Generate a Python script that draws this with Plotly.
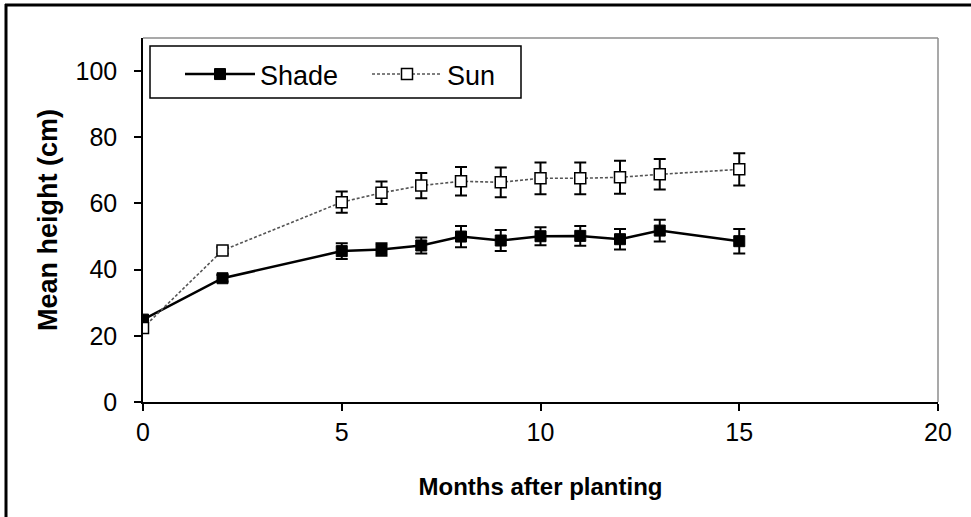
import plotly.graph_objects as go

months = [0, 2, 5, 6, 7, 8, 9, 10, 11, 12, 13, 15]
shade_mean = [24.9, 37.4, 45.6, 46.1, 47.3, 50.0, 48.8, 50.1, 50.2, 49.2, 51.8, 48.6]
shade_err = [0.5, 1.0, 2.4, 1.9, 2.4, 3.2, 3.2, 2.7, 3.0, 3.1, 3.3, 3.7]
sun_mean = [22.4, 45.8, 60.4, 63.2, 65.4, 66.7, 66.4, 67.6, 67.6, 67.9, 68.8, 70.3]
sun_err = [0.5, 1.0, 3.2, 3.4, 3.8, 4.3, 4.5, 4.8, 4.8, 5.0, 4.6, 4.9]

x_ticks = [0, 5, 10, 15, 20]
y_ticks = [0, 20, 40, 60, 80, 100]

FONT = "Arial, Liberation Sans, sans-serif"

fig = go.Figure()
fig.add_trace(go.Scatter(
    x=months, y=shade_mean, name="Shade", mode="lines+markers",
    line=dict(color="black", width=2.5),
    marker=dict(symbol="square", size=11, color="black", line=dict(color="black", width=1)),
    error_y=dict(type="data", array=shade_err, visible=True, color="black", thickness=2, width=6),
))
fig.add_trace(go.Scatter(
    x=months, y=sun_mean, name="Sun", mode="lines+markers",
    line=dict(color="#555555", width=1.6, dash="3px,2px"),
    marker=dict(symbol="square", size=11, color="white", line=dict(color="black", width=1.5)),
    error_y=dict(type="data", array=sun_err, visible=True, color="black", thickness=2, width=6),
))

L, R, T, B = 143, 33, 38, 115
W, H = 971, 517
pw, ph = W - L - R, H - T - B

def px2x(px):
    return (px - L) / pw

def py2y(py):
    return (H - B - py) / ph

fig.update_layout(
    width=W, height=H,
    margin=dict(l=L, r=R, t=T, b=B),
    paper_bgcolor="white", plot_bgcolor="white",
    font=dict(family=FONT, color="black", size=25),
    showlegend=True,
    legend=dict(
        orientation="h",
        x=px2x(180), y=py2y(50), xanchor="left", yanchor="top",
        borderwidth=0, bgcolor="rgba(0,0,0,0)",
        font=dict(size=27, family=FONT),
        entrywidth=102, entrywidthmode="pixels",
        itemwidth=70,
    ),
    xaxis=dict(
        range=[0, 20], tickvals=x_ticks, showgrid=False, zeroline=False,
        showline=True, linecolor="black", linewidth=1.5,
        ticks="outside", ticklen=7, tickwidth=1.5, tickcolor="black",
        tickfont=dict(size=25), ticklabelstandoff=0,
        title=dict(text="<b>Months after planting</b>", font=dict(size=24), standoff=33),
    ),
    yaxis=dict(
        range=[0, 110], tickvals=y_ticks, showgrid=False, zeroline=False,
        showline=True, linecolor="black", linewidth=1.5,
        ticks="outside", ticklen=7, tickwidth=1.5, tickcolor="black",
        tickfont=dict(size=25), ticklabelstandoff=12,
        title=dict(text="<b>Mean height (cm)</b>", font=dict(size=27), standoff=10),
    ),
)

# gray plot-area frame (top and right)
fig.add_shape(type="line", xref="paper", yref="paper", x0=0, x1=1, y0=1, y1=1,
              line=dict(color="#8c8c8c", width=1.5), layer="below")
fig.add_shape(type="line", xref="paper", yref="paper", x0=1, x1=1, y0=0, y1=1,
              line=dict(color="#8c8c8c", width=1.5), layer="below")

# legend frame
fig.add_shape(type="rect", xref="paper", yref="paper",
              x0=px2x(150), x1=px2x(521), y0=py2y(98), y1=py2y(46),
              line=dict(color="black", width=1.5), fillcolor="white", layer="below")

# outer chart border (top and left)
fig.add_shape(type="line", xref="paper", yref="paper",
              x0=px2x(5), x1=px2x(975), y0=py2y(5), y1=py2y(5),
              line=dict(color="black", width=3))
fig.add_shape(type="line", xref="paper", yref="paper",
              x0=px2x(6), x1=px2x(6), y0=py2y(4), y1=py2y(520),
              line=dict(color="black", width=3))

fig.write_html("out.html", config={"displayModeBar": False},
               post_script="document.body.style.margin='0';")
